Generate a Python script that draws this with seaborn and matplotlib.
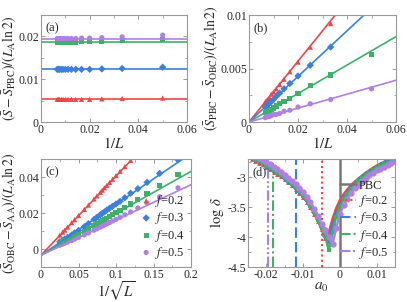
import numpy as np
import matplotlib
matplotlib.use("Agg")
import matplotlib.pyplot as plt
from matplotlib.ticker import MultipleLocator, FuncFormatter
import seaborn as sns

# ---- data ----
f_labels = ["$f$=0.2", "$f$=0.3", "$f$=0.4", "$f$=0.5"]
colors = ["#ee4646", "#3a80e0", "#3cb268", "#b07fe6"]
markers = ["^", "D", "s", "o"]

# panels (a) and (b): x = 1/L
L_ab = [20, 30, 40, 50, 60, 70, 80, 90, 100, 110, 120, 130, 140, 150]
a_pts = [
    [0.0056, 0.0055, 0.0054, 0.0053, 0.0053, 0.0053, 0.0053, 0.0053, 0.0053, 0.0053, 0.0053, 0.0053, 0.0053, 0.0053],
    [0.0128, 0.0125, 0.0124, 0.0123, 0.0123, 0.0123, 0.0123, 0.0123, 0.0123, 0.0123, 0.0123, 0.0123, 0.0123, 0.0123],
    [0.0192, 0.0190, 0.0189, 0.0188, 0.0188, 0.0187, 0.0187, 0.0187, 0.0187, 0.0187, 0.0187, 0.0187, 0.0187, 0.0187],
    [0.0203, 0.0199, 0.0197, 0.0196, 0.0196, 0.0195, 0.0195, 0.0195, 0.0195, 0.0195, 0.0195, 0.0195, 0.0195, 0.0195],
]
a_fit = [0.0053, 0.0123, 0.0187, 0.0195]

b_pts = [
    [0.0140, 0.0092, 0.0070, 0.0056, 0.0047, 0.0040, 0.0035, 0.0031, 0.0028, 0.0026, 0.0023, 0.0021, 0.0020, 0.0019],
    [0.0106, 0.0070, 0.0053, 0.0043, 0.0036, 0.0031, 0.0027, 0.0024, 0.0021, 0.0019, 0.0018, 0.0016, 0.0015, 0.0014],
    [0.0063, 0.0044, 0.0034, 0.0027, 0.0022, 0.0019, 0.0017, 0.0015, 0.0013, 0.0012, 0.0011, 0.0010, 0.0010, 0.0009],
    [0.0031, 0.0021, 0.0017, 0.0014, 0.0011, 0.0010, 0.0008, 0.0007, 0.0007, 0.0006, 0.0005, 0.0005, 0.0005, 0.0004],
]
b_slope = [0.284, 0.213, 0.133, 0.065]

# panel (c): x = 1/sqrt(L)
L_c = [30, 40, 50, 60, 70, 80, 90, 100, 110, 120, 130, 140, 150, 160, 180, 200,
       250, 300, 400, 500, 600, 800, 1000, 1200, 1600]
c_pts = [
    [0.0765, 0.0660, 0.0585, 0.0535, 0.0492, 0.0458, 0.0432, 0.0408, 0.0388, 0.0370, 0.0354, 0.0340, 0.0327,
     0.0315, 0.0295, 0.0278, 0.0244, 0.0220, 0.0186, 0.0163, 0.0146, 0.0122, 0.0105, 0.0094, 0.0077],
    [0.0495, 0.0420, 0.0370, 0.0335, 0.0310, 0.0285, 0.0265, 0.0250, 0.0237, 0.0226, 0.0216, 0.0206, 0.0198,
     0.0190, 0.0176, 0.0164, 0.0141, 0.0124, 0.0103, 0.0089, 0.0078, 0.0064, 0.0055, 0.0049, 0.0040],
    [0.0412, 0.0352, 0.0310, 0.0275, 0.0250, 0.0232, 0.0215, 0.0202, 0.0190, 0.0180, 0.0171, 0.0163, 0.0156,
     0.0150, 0.0139, 0.0130, 0.0112, 0.0099, 0.0082, 0.0070, 0.0062, 0.0051, 0.0044, 0.0039, 0.0032],
    [0.0340, 0.0290, 0.0255, 0.0228, 0.0206, 0.0190, 0.0176, 0.0164, 0.0155, 0.0147, 0.0139, 0.0133, 0.0127,
     0.0121, 0.0112, 0.0104, 0.0089, 0.0078, 0.0064, 0.0054, 0.0047, 0.0038, 0.0032, 0.0027, 0.0021],
]
c_icpt = -0.0035
c_slope = [0.44, 0.283, 0.233, 0.196]

# panel (d): log delta vs a0
a0 = [-0.025, -0.024, -0.023, -0.022, -0.021, -0.020, -0.019, -0.018, -0.017, -0.016, -0.015,
      -0.014, -0.013, -0.012, -0.011, -0.010, -0.009, -0.008, -0.007, -0.006, -0.005, -0.004,
      -0.003, -0.002, -0.001, 0.000, 0.001, 0.002, 0.003, 0.004, 0.005, 0.006, 0.007, 0.008,
      0.009, 0.010, 0.011, 0.012, 0.013, 0.014, 0.015]
d_pts = [
    [-2.67, -2.70, -2.73, -2.76, -2.79, -2.83, -2.87, -2.91, -2.95, -2.99, -3.04, -3.09, -3.14, -3.20,
     -3.26, -3.33, -3.41, -3.50, -3.61, -3.73, -3.87, -4.02, -3.92, -3.70, -3.52, -3.39, -3.29, -3.21,
     -3.14, -3.08, -3.03, -2.98, -2.93, -2.89, -2.85, -2.81, -2.78, -2.75, -2.72, -2.69, -2.66],
    [-2.64, -2.67, -2.70, -2.73, -2.76, -2.80, -2.84, -2.88, -2.92, -2.96, -3.01, -3.06, -3.11, -3.17,
     -3.23, -3.30, -3.38, -3.47, -3.58, -3.70, -3.84, -3.98, -4.06, -3.80, -3.62, -3.47, -3.35, -3.26,
     -3.18, -3.11, -3.05, -3.00, -2.95, -2.91, -2.87, -2.83, -2.80, -2.77, -2.74, -2.71, -2.68],
    [-2.65, -2.68, -2.71, -2.74, -2.77, -2.81, -2.85, -2.89, -2.93, -2.97, -3.02, -3.07, -3.12, -3.18,
     -3.24, -3.31, -3.39, -3.48, -3.59, -3.71, -3.85, -3.99, -4.22, -3.92, -3.66, -3.50, -3.37, -3.28,
     -3.20, -3.13, -3.07, -3.02, -2.97, -2.93, -2.89, -2.85, -2.82, -2.79, -2.76, -2.73, -2.70],
    [-2.59, -2.62, -2.65, -2.68, -2.71, -2.75, -2.79, -2.83, -2.87, -2.91, -2.96, -3.01, -3.06, -3.12,
     -3.18, -3.25, -3.33, -3.42, -3.53, -3.65, -3.78, -3.88, -4.00, -4.12, -3.85, -3.62, -3.47, -3.36,
     -3.27, -3.19, -3.13, -3.07, -3.02, -2.97, -2.93, -2.89, -2.86, -2.83, -2.80, -2.77, -2.74],
]
a_pbc = 0.0
a_star = [-0.005, -0.012, -0.0182, -0.0195]
vline_styles = [(0, (1, 1.5)), (0, (5, 2)), (0, (5, 1.5, 1, 1.5)), (0, (5, 1.2, 1, 1.2, 1, 1.2))]

# ---- style ----
sns.set_style("ticks")
plt.rcParams["font.family"] = ["Liberation Serif", "DejaVu Serif"]
plt.rcParams["mathtext.fontset"] = "stix"
plt.rcParams["axes.unicode_minus"] = False

W, H = 407, 302
fig = plt.figure(figsize=(W / 100, H / 100), dpi=100)

TICK_FS = 8.5
LAB_FS = 10
XLAB_FS = 10.5


def make_axes(left, top, w, h):
    return fig.add_axes([left / W, 1 - (top + h) / H, w / W, h / H])


def style_axes(ax, xmaj, xmin, ymaj, ymin):
    ax.xaxis.set_major_locator(MultipleLocator(xmaj))
    ax.xaxis.set_minor_locator(MultipleLocator(xmin))
    ax.yaxis.set_major_locator(MultipleLocator(ymaj))
    ax.yaxis.set_minor_locator(MultipleLocator(ymin))
    fmt = FuncFormatter(lambda v, p: "0" if abs(v) < 1e-12 else f"{v:g}")
    ax.xaxis.set_major_formatter(fmt)
    ax.yaxis.set_major_formatter(fmt)
    ax.tick_params(which="both", direction="in", top=True, right=True,
                   color="#888888", labelsize=TICK_FS, pad=1.5)
    ax.tick_params(which="major", length=3, width=0.6)
    ax.tick_params(which="minor", length=1.8, width=0.5)
    for s in ax.spines.values():
        s.set_color("#999999")
        s.set_linewidth(0.8)


ax_a = make_axes(41, 15, 146, 107)
ax_b = make_axes(249, 15, 147, 107)
ax_c = make_axes(41, 159, 150, 108)
ax_d = make_axes(248, 159, 147, 108)

x_ab = 1 / np.array(L_ab)
x_c = 1 / np.sqrt(np.array(L_c))

# (a)
for i in range(4):
    ax_a.axhline(a_fit[i], color=colors[i], lw=1.2)
    sns.scatterplot(x=x_ab, y=a_pts[i], marker=markers[i], color=colors[i], s=14,
                    edgecolor="none", ax=ax_a)
ax_a.set_xlim(0, 0.06)
ax_a.set_ylim(0, 0.025)
style_axes(ax_a, 0.02, 0.01, 0.01, 0.005)
ax_a.set_xlabel("$1/L$", fontsize=XLAB_FS, labelpad=0)
ax_a.set_ylabel(r"$\left(\bar{S}-\bar{S}_{\rm PBC}\right)/\left(L_{\rm A}\ln 2\right)$", fontsize=LAB_FS, labelpad=0)
ax_a.text(0.03, 0.93, "(a)", transform=ax_a.transAxes, fontsize=TICK_FS + 0.5, va="top")

# (b)
xf = np.array([0, 0.06])
for i in range(4):
    ax_b.plot(xf, b_slope[i] * xf, color=colors[i], lw=1.2)
    sns.scatterplot(x=x_ab, y=b_pts[i], marker=markers[i], color=colors[i], s=14,
                    edgecolor="none", ax=ax_b)
ax_b.set_xlim(0, 0.06)
ax_b.set_ylim(0, 0.01)
style_axes(ax_b, 0.02, 0.01, 0.005, 0.0025)
ax_b.set_xlabel("$1/L$", fontsize=XLAB_FS, labelpad=0)
ax_b.set_ylabel(r"$\left(\bar{S}_{\rm PBC}-\bar{S}_{\rm OBC}\right)/\left(L_{\rm A}\ln 2\right)$", fontsize=LAB_FS, labelpad=0)
ax_b.text(0.03, 0.93, "(b)", transform=ax_b.transAxes, fontsize=TICK_FS + 0.5, va="top")

# (c)
xf = np.array([0, 0.2])
for i in range(4):
    ax_c.plot(xf, c_icpt + c_slope[i] * xf, color=colors[i], lw=1.2)
for i in range(4):
    sns.scatterplot(x=x_c, y=c_pts[i], marker=markers[i], color=colors[i], s=14,
                    edgecolor="none", ax=ax_c, label=f_labels[i])
ax_c.set_xlim(0, 0.2)
ax_c.set_ylim(-0.01, 0.05)
style_axes(ax_c, 0.05, 0.025, 0.02, 0.01)
ax_c.set_xlabel(r"$1/\sqrt{L}$", fontsize=XLAB_FS, labelpad=-1)
ax_c.set_ylabel(r"$\left(\bar{S}_{\rm OBC}-\bar{S}_{\rm AA}\right)/\left(L_{\rm A}\ln 2\right)$", fontsize=LAB_FS, labelpad=0)
ax_c.text(0.03, 0.93, "(c)", transform=ax_c.transAxes, fontsize=TICK_FS + 0.5, va="top")
ax_c.legend(loc="lower right", frameon=False, fontsize=TICK_FS + 0.5, handletextpad=0.1,
            labelspacing=0.1, borderaxespad=0.1, handlelength=1.2, markerscale=1.0)

# (d)
ax_d.axvline(a_pbc, color="#777777", lw=1.8, label="PBC")
for i in range(4):
    ax_d.axvline(a_star[i], color=colors[i], lw=1.5, ls=vline_styles[i], label=f_labels[i])
for i in range(4):
    sns.lineplot(x=a0, y=d_pts[i], color=colors[i], lw=1.8, marker=markers[i],
                 markersize=4.5 if i == 3 else 3.5, markeredgewidth=0, ax=ax_d, legend=False)
ax_d.set_xlim(-0.025, 0.015)
ax_d.set_ylim(-4.5, -2.7)
style_axes(ax_d, 0.01, 0.005, 0.5, 0.25)
ax_d.set_xlabel("$a_0$", fontsize=XLAB_FS + 0.5, labelpad=0)
ax_d.set_ylabel(r"$\log\,\delta$", fontsize=XLAB_FS, labelpad=1)
ax_d.text(0.03, 0.93, "(d)", transform=ax_d.transAxes, fontsize=TICK_FS + 0.5, va="top")
h, l = ax_d.get_legend_handles_labels()
ax_d.legend(h[:5], l[:5], loc="lower right", frameon=False, fontsize=TICK_FS + 0.5, handletextpad=0.2,
            labelspacing=0.1, borderaxespad=0.1, handlelength=1.3)

fig.savefig("out.png", dpi=100)
